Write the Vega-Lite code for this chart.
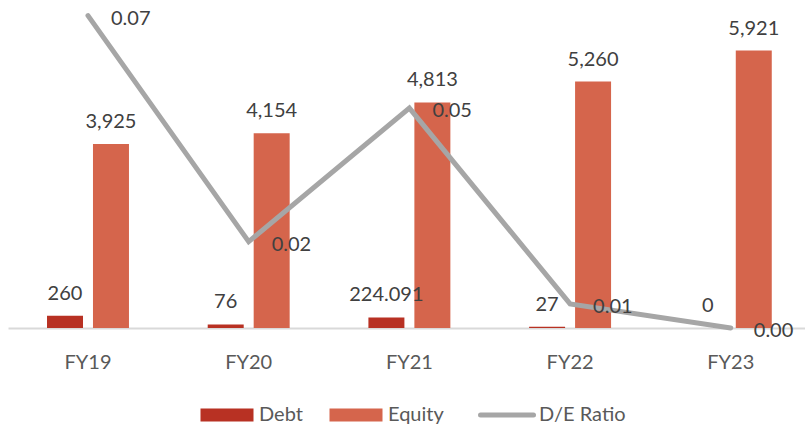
{
  "$schema": "https://vega.github.io/schema/vega-lite/v6.json",
  "autosize": {"type": "none"},
  "width": 797,
  "height": 328,
  "padding": {"left": 8, "top": 0, "right": 0, "bottom": 98},
  "background": "white",
  "config": {"view": {"stroke": null}, "font": "Lato"},
  "datasets": {
    "bars": [
      {"year": "FY19", "series": "Debt", "value": 260},
      {"year": "FY19", "series": "Equity", "value": 3925},
      {"year": "FY20", "series": "Debt", "value": 76},
      {"year": "FY20", "series": "Equity", "value": 4154},
      {"year": "FY21", "series": "Debt", "value": 224.091},
      {"year": "FY21", "series": "Equity", "value": 4813},
      {"year": "FY22", "series": "Debt", "value": 27},
      {"year": "FY22", "series": "Equity", "value": 5260},
      {"year": "FY23", "series": "Debt", "value": 0},
      {"year": "FY23", "series": "Equity", "value": 5921}
    ],
    "ratio": [
      {"year": "FY19", "ratio": 0.0662},
      {"year": "FY20", "ratio": 0.0183},
      {"year": "FY21", "ratio": 0.0466},
      {"year": "FY22", "ratio": 0.0051},
      {"year": "FY23", "ratio": 0}
    ]
  },
  "layer": [
    {
      "data": {"name": "bars"},
      "encoding": {
        "x": {
          "field": "year", "type": "nominal",
          "scale": {"paddingInner": 0.49, "paddingOuter": 0.2248, "align": 0.54},
          "axis": {"title": null, "labelAngle": 0, "labelFontSize": 20, "labelColor": "#595959", "labelFont": "Lato", "ticks": false, "labelPadding": 24, "domainColor": "#D9D9D9", "domainWidth": 2, "grid": false}
        },
        "xOffset": {"field": "series", "type": "nominal", "scale": {"paddingInner": 0.217, "paddingOuter": 0}},
        "y": {"field": "value", "type": "quantitative", "scale": {"domain": [0, 7000]}, "axis": null}
      },
      "layer": [
        {
          "mark": {"type": "bar"},
          "encoding": {
            "color": {
              "field": "series", "type": "nominal",
              "scale": {"domain": ["Debt", "Equity", "D/E Ratio"], "range": ["#B83123", "#D5654C", "#A6A6A6"]},
              "legend": {
                "orient": "none", "legendX": 209, "legendY": 405, "direction": "horizontal", "title": null,
                "labelFontSize": 20, "labelColor": "#595959", "labelFont": "Lato", "labelOffset": 22, "columnPadding": 26,
                "symbolSize": 2809, "symbolType": "M-1,-0.245H1V0.245H-1Z", "symbolStrokeWidth": 0,
                "encode": {
                  "symbols": {
                    "update": {
                      "shape": {"signal": "datum.value === 'D/E Ratio' ? 'stroke' : 'M-1,-0.245H1V0.245H-1Z'"},
                      "strokeWidth": {"signal": "datum.value === 'D/E Ratio' ? 5 : 0"},
                      "fill": {"signal": "scale('color', datum.value)"},
                      "stroke": {"signal": "scale('color', datum.value)"},
                      "strokeCap": {"value": "round"},
                      "opacity": {"value": 1}
                    }
                  }
                }
              }
            }
          }
        },
        {
          "mark": {"type": "text", "baseline": "alphabetic", "dy": -16, "fontSize": 20, "color": "#404040", "font": "Lato"},
          "encoding": {"text": {"field": "value", "type": "quantitative", "format": ",~f"}}
        }
      ]
    },
    {
      "data": {"name": "ratio"},
      "encoding": {
        "x": {"field": "year", "type": "nominal"},
        "y": {"field": "ratio", "type": "quantitative", "scale": {"domain": [0, 0.0695]}, "axis": null}
      },
      "layer": [
        {
          "mark": {"type": "line", "strokeWidth": 5, "strokeCap": "round", "strokeJoin": "miter"},
          "encoding": {"color": {"datum": "D/E Ratio"}}
        },
        {
          "mark": {"type": "text", "align": "left", "baseline": "middle", "dx": 23, "dy": 3, "fontSize": 20, "color": "#404040", "font": "Lato"},
          "encoding": {"text": {"field": "ratio", "type": "quantitative", "format": ".2f"}}
        }
      ]
    }
  ],
  "resolve": {"scale": {"y": "independent"}}
}
